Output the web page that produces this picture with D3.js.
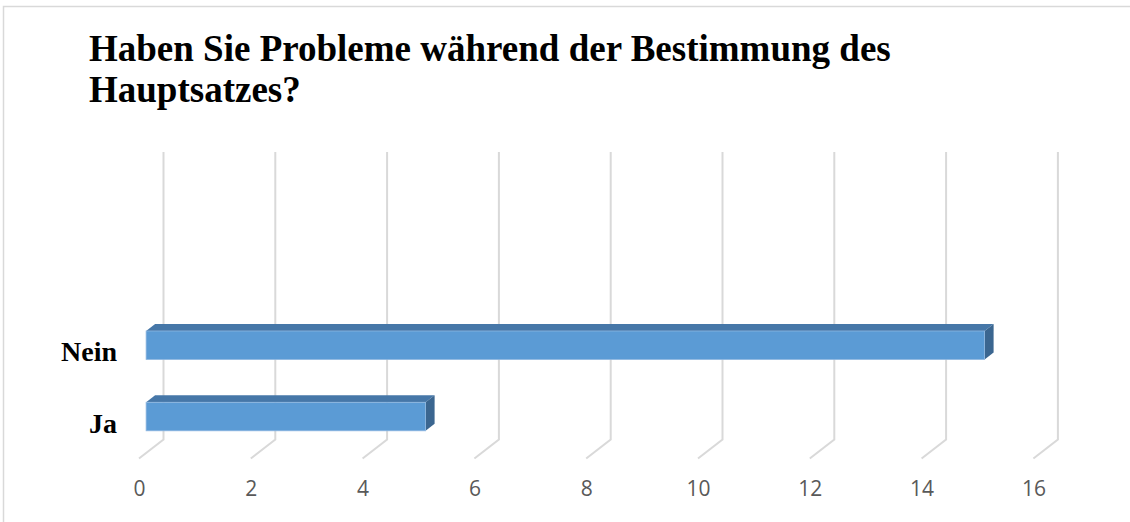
<!DOCTYPE html>
<html>
<head>
<meta charset="utf-8">
<script src="https://cdn.jsdelivr.net/npm/d3@7"></script>
<style>
    body { margin: 0; background: #fff; }
    svg { display: block; }
</style>
</head>
<body>
<svg id="chart" width="1130" height="522"></svg>
<script>
// Chart data.
const categories = ["Nein", "Ja"];
const values = [15, 5];
const tickValues = [0, 2, 4, 6, 8, 10, 12, 14, 16];
const titleLines = ["Haben Sie Probleme während der Bestimmung des", "Hauptsatzes?"];

// Display parameters.
let gridColour = "#d9d9d9";
let frontColour = "#5b9bd5";
let topColour = "#4677a8";
let sideColour = "#3b6690";

// Floor depth (front plane -> back wall) and bar depth.
let floorDx = 24.5, floorDy = -19;
let barOffset = 0.29;   // where the bar's front face sits in the depth
let barDx = 9, barDy = -7;

let svg = d3.select("#chart");

// Outer chart border.
svg.append("rect")
    .attr("x", 3.5)
    .attr("y", 6.5)
    .attr("width", 1130)
    .attr("height", 520)
    .attr("fill", "none")
    .attr("stroke", "#d9d9d9")
    .attr("stroke-width", 1.5);

// Title.
svg.append("text")
    .attr("x", 89)
    .attr("y", 61)
    .attr("font-family", "'Liberation Serif', 'Times New Roman', serif")
    .attr("font-weight", "bold")
    .attr("font-size", "37px")
    .attr("fill", "#000")
    .selectAll("tspan")
    .data(titleLines)
    .enter()
    .append("tspan")
    .attr("x", 89)
    .attr("dy", (d, i) => i === 0 ? 0 : 41)
    .text(d => d);

// Scales. x is on the front plane of the floor.
let x = d3.scaleLinear()
    .domain([0, 16])
    .range([139, 1033.4]);

let y = d3.scaleBand()
    .domain(categories)
    .range([309.6, 452.2])
    .paddingInner(0.6)
    .paddingOuter(0.3);

let wallTop = 152;
let wallBottom = 458.5 + floorDy;

// Gridlines: vertical on the back wall, then slanting down to the front.
let grid = svg.append("g").attr("class", "grid");
grid.selectAll("path")
    .data(tickValues)
    .enter()
    .append("path")
    .attr("d", function(d) {
        let xb = x(d) + floorDx;
        return `M${xb},${wallTop}L${xb},${wallBottom}L${x(d)},${wallBottom - floorDy}`;
    })
    .attr("fill", "none")
    .attr("stroke", gridColour)
    .attr("stroke-width", 2);

// Axis labels along the front edge.
let axis = d3.axisBottom(x)
    .tickValues(tickValues)
    .tickSize(0)
    .tickPadding(0);

let axisG = svg.append("g")
    .attr("transform", "translate(0,480)")
    .call(axis);
axisG.select(".domain").remove();
axisG.selectAll("text")
    .attr("dy", 0)
    .attr("y", 16)
    .attr("font-family", "'Open Sans', 'Liberation Sans', sans-serif")
    .attr("font-size", "21px")
    .attr("fill", "#595959");

// Bars drawn as 3D boxes.
let bars = svg.append("g")
    .attr("class", "bars")
    .selectAll("g")
    .data(categories.map((c, i) => ({ cat: c, val: values[i] })))
    .enter()
    .append("g");

let ox = barOffset * floorDx;

// Top face.
bars.append("path")
    .attr("d", function(d) {
        let x0 = x(0) + ox, x1 = x(d.val) + ox, yt = y(d.cat);
        return `M${x0},${yt}L${x0 + barDx},${yt + barDy}L${x1 + barDx},${yt + barDy}L${x1},${yt}Z`;
    })
    .attr("fill", topColour);

// Side face.
bars.append("path")
    .attr("d", function(d) {
        let x1 = x(d.val) + ox, yt = y(d.cat), yb = yt + y.bandwidth();
        return `M${x1},${yt}L${x1 + barDx},${yt + barDy}L${x1 + barDx},${yb + barDy}L${x1},${yb}Z`;
    })
    .attr("fill", sideColour);

// Front face.
bars.append("rect")
    .attr("x", x(0) + ox)
    .attr("y", d => y(d.cat))
    .attr("width", d => x(d.val) - x(0))
    .attr("height", y.bandwidth())
    .attr("fill", frontColour)
    .attr("stroke", "#8fb7e0")
    .attr("stroke-width", 0.8);

// Category labels.
svg.append("g")
    .selectAll("text")
    .data(categories)
    .enter()
    .append("text")
    .attr("x", 117)
    .attr("y", d => y(d) + y.bandwidth() / 2 + 16)
    .attr("text-anchor", "end")
    .attr("font-family", "'Liberation Serif', 'Times New Roman', serif")
    .attr("font-weight", "bold")
    .attr("font-size", "28px")
    .attr("fill", "#000")
    .text(d => d);
</script>
</body>
</html>
